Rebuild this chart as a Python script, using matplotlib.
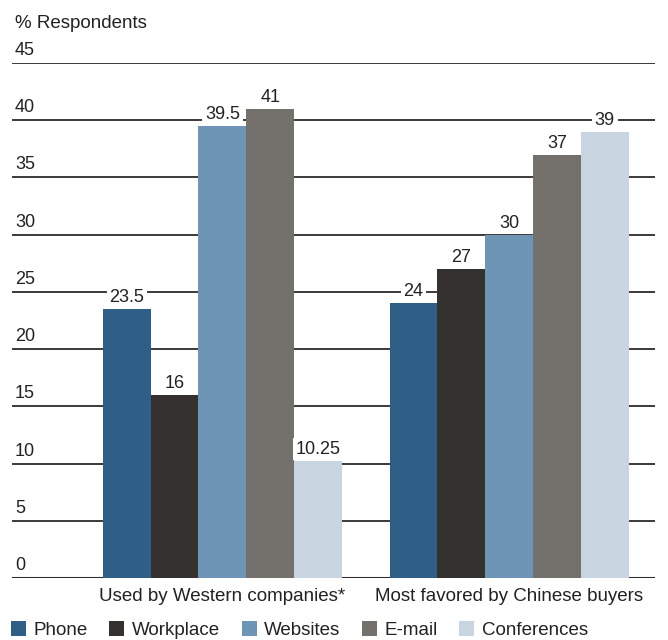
import matplotlib
matplotlib.use("Agg")
import matplotlib.pyplot as plt
import matplotlib.transforms as mtransforms
from matplotlib.patches import Patch
import numpy as np

groups = ["Used by Western companies*", "Most favored by Chinese buyers"]
series = ["Phone", "Workplace", "Websites", "E-mail", "Conferences"]
values = {
    "Phone": [23.5, 24],
    "Workplace": [16, 27],
    "Websites": [39.5, 30],
    "E-mail": [41, 37],
    "Conferences": [10.25, 39],
}
value_labels = {
    "Phone": ["23.5", "24"],
    "Workplace": ["16", "27"],
    "Websites": ["39.5", "30"],
    "E-mail": ["41", "37"],
    "Conferences": ["10.25", "39"],
}
yticks = [0, 5, 10, 15, 20, 25, 30, 35, 40, 45]
colors = ["#2f5f86", "#35312f", "#6e95b6", "#74706b", "#c8d5e0"]

FONT = ["Liberation Sans", "DejaVu Sans"]
plt.rcParams["font.family"] = FONT
TXT = "#222222"

fig = plt.figure(figsize=(6.68, 6.40), dpi=100)
fig.patch.set_facecolor("white")
ax = fig.add_axes([12 / 668, 1 - 578 / 640, (655 - 12) / 668, (578 - 63) / 640])
ax.set_xlim(0, 13.45)
ax.set_ylim(0, 45)
ax.axis("off")

up4 = mtransforms.ScaledTranslation(0, 4 / 100, fig.dpi_scale_trans)
up3 = mtransforms.ScaledTranslation(0, 3 / 100, fig.dpi_scale_trans)

# gridlines and tick labels
for t in yticks:
    ax.axhline(t, color="#2b2b2b", lw=1.3 if t else 2.2, zorder=1)
    ax.text(0.06, t, str(t), ha="left", va="bottom", fontsize=13,
            color=TXT, zorder=3, transform=ax.transData + up4)

group_starts = np.array([1.9, 7.9])
width = 1.0
for i, s in enumerate(series):
    xs = group_starts + i * width + width / 2
    ax.bar(xs, values[s], width=width, color=colors[i], zorder=2, linewidth=0)
    for x, v, lab in zip(xs, values[s], value_labels[s]):
        ax.text(x, v, lab, ha="center", va="bottom", fontsize=13, color=TXT,
                zorder=4,
                bbox=dict(boxstyle="square,pad=0.15", fc="white", ec="none"),
                transform=ax.transData + up3)

# group labels
for g, x0 in zip(groups, group_starts):
    ax.text(x0 + 2.5 * width, -0.9, g, ha="center", va="top", fontsize=13.5, color=TXT)

# y title
fig.text(15 / 668, 1 - 23 / 640, "% Respondents", ha="left", va="center", fontsize=13.5, color=TXT)

handles = [Patch(facecolor=c, edgecolor="none", label=s) for c, s in zip(colors, series)]
fig.legend(handles=handles, loc="center left", bbox_to_anchor=(11 / 668, 1 - 630 / 640), ncol=5,
           frameon=False, handlelength=0.8, handleheight=0.8,
           handletextpad=0.4, columnspacing=1.15, borderaxespad=0, borderpad=0,
           prop={"family": FONT, "size": 13.5}, labelcolor=TXT)

fig.savefig("out.png", dpi=100, facecolor="white")
